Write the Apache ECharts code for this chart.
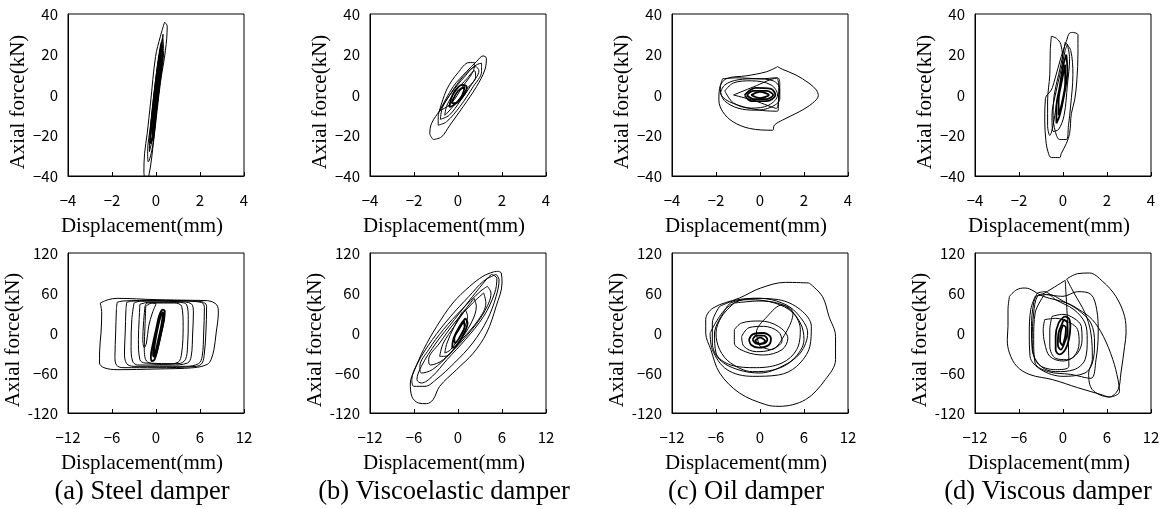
<!DOCTYPE html>
<html><head><meta charset="utf-8">
<script src="https://cdn.jsdelivr.net/npm/echarts@6/dist/echarts.min.js"></script>
<style>html,body{margin:0;padding:0;background:#fff}#c{width:1163px;height:509px}</style>
</head><body><div id="c"></div>
<script>
// ---- tick definitions ----
const smallX = [-4, 4, 2];     // min, max, interval (mm)
const smallY = [-40, 40, 20];  // kN
const largeX = [-12, 12, 6];
const largeY = [-120, 120, 60];

const captions = ['(a) Steel damper', '(b) Viscoelastic damper', '(c) Oil damper', '(d) Viscous damper'];
const xTitle = 'Displacement(mm)';
const yTitle = 'Axial force(kN)';

// ---- data: loops of [displacement mm, force kN] ----
const steelSmall = [
  [[0.39,36],[0.51,34],[0.43,22],[0.2,6],[-0.1,-22],[-0.33,-40],[-0.48,-41],[-0.55,-38],[-0.52,-29],[-0.4,-19],[-0.25,-4],[-0.02,19],[0.2,29],[0.39,36]],
  [[0.3,28],[0.35,22],[0.2,8],[0.0,-10],[-0.15,-25],[-0.35,-33],[-0.38,-28],[-0.25,-15],[-0.08,2],[0.12,18],[0.3,28]],
  [[0.32,30],[0.28,20],[0.1,2],[-0.1,-18],[-0.3,-28],[-0.28,-20],[-0.12,-4],[0.08,14],[0.32,30]],
  [[0.25,26],[0.28,18],[0.15,5],[0.0,-8],[-0.12,-20],[-0.25,-24],[-0.22,-16],[-0.1,-2],[0.05,12],[0.18,22],[0.25,26]],
  [[0.2,22],[0.2,14],[0.08,0],[-0.05,-12],[-0.15,-20],[-0.18,-14],[-0.05,0],[0.1,14],[0.2,22]],
  [[0.15,18],[0.12,8],[0.0,-4],[-0.1,-16],[-0.1,-8],[0.02,4],[0.15,18]]
];
const veSmall = [
  [[-1.13,-22],[-1.28,-19],[-1.2,-14],[-0.82,-7.4],[-0.22,4.1],[0.39,11.6],[0.84,16.5],[1.14,19.3],[1.29,18.2],[1.22,12.4],[0.84,4.1],[0.23,-5.8],[-0.37,-14.9],[-0.75,-20.7],[-1.13,-22]],
  [[-0.9,-14.9],[-0.9,-10.7],[-0.52,-2.5],[0.23,9.1],[0.84,14.9],[1.07,15.7],[1.07,11.6],[0.69,4.1],[0.08,-5.8],[-0.52,-13.2],[-0.9,-14.9]],
  [[-0.85,-8],[-0.5,3],[0,11],[0.5,16],[0.75,16],[0.7,12],[0.2,4],[-0.3,-4],[-0.85,-8]],
  [[-0.8,-12],[-0.7,-6],[-0.3,1],[0.3,9],[0.8,14],[0.95,12],[0.6,5],[0.1,-3],[-0.4,-10],[-0.8,-12]],
  [[-0.6,-10],[-0.5,-5],[-0.1,2],[0.4,8],[0.75,12],[0.8,9],[0.4,3],[-0.1,-4],[-0.5,-9],[-0.6,-10]],
  [[-0.4,-6],[-0.2,1],[0.2,5],[0.4,4],[0.2,-1],[-0.2,-5],[-0.4,-6]],
  [[-0.3,-4],[0,2],[0.3,4],[0.2,0],[-0.1,-4],[-0.3,-4]]
];
const oilSmall = [
  [[0.8,14],[1.02,12.7],[1.63,9.9],[2.23,5.8],[2.56,2.5],[2.65,-0.3],[2.38,-4.1],[1.78,-8.3],[1.02,-12.4],[0.65,-14.9],[0.57,-17.4],[-0.48,-16.5],[-1.23,-13.2],[-1.69,-8.3],[-1.87,-2.5],[-1.84,3.3],[-1.54,8],[-0.6,9.5],[0.3,11.5],[0.8,14]],
  [[-1.7,8],[-1,8.5],[0,8],[0.8,8.5],[0.9,5],[0.85,-2],[0.8,-8],[0,-7.5],[-1,-5],[-1.7,-1],[-1.8,4],[-1.7,8]],
  [[-1.2,0],[-0.3,4],[0.75,8.3],[0.85,3],[0.75,-6.6],[-0.2,-3],[-1.2,0]],
  [[-1.8,1],[-1.6,5],[-1,7.5],[-0.2,8],[0.6,7],[0.9,3],[0.9,-2],[0.5,-6],[-0.2,-7.5],[-1,-6.5],[-1.6,-3],[-1.8,1]],
  [[-1.6,2],[-1.2,6],[-0.4,7],[0.5,5],[0.8,0],[0.4,-5],[-0.4,-6.5],[-1.2,-4],[-1.6,2]],
  [[-0.7,0],[-0.2,3.5],[0.5,3],[0.7,0],[0.3,-3],[-0.4,-3],[-0.7,0]],
  [[-0.6,0],[-0.3,2],[0.3,2],[0.6,0],[0.3,-2],[-0.3,-2],[-0.6,0]],
  [[-0.4,0],[0,1.5],[0.4,0],[0,-1.5],[-0.4,0]]
];
const viscousSmall = [
  [[0.45,30.9],[0.68,29.8],[0.68,20.7],[0.63,7.4],[0.53,-2.5],[0.38,-9.1],[0.3,-19],[0.15,-24],[-0.08,-28.9],[-0.15,-30.9],[-0.53,-30.9],[-0.68,-28.1],[-0.78,-22.3],[-0.83,-12.4],[-0.8,-1.7],[-0.53,2.5],[-0.38,7.4],[-0.08,19],[0.15,26.4],[0.3,30.6],[0.45,30.9]],
  [[-0.53,29],[-0.3,28],[-0.1,25],[0.0,15],[-0.1,5],[-0.3,-5],[-0.45,-15],[-0.6,-20],[-0.7,-15],[-0.7,-3],[-0.6,10],[-0.58,22],[-0.53,29]],
  [[0.1,26],[0.35,22],[0.45,10],[0.35,-5],[0.25,-15],[0.15,-22],[-0.15,-22],[-0.35,-18],[-0.45,-10],[-0.4,0],[-0.2,10],[0,20],[0.1,26]],
  [[0.2,25],[0.3,18],[0.2,5],[0.05,-10],[-0.2,-17],[-0.45,-18],[-0.5,-10],[-0.35,0],[-0.1,12],[0.1,22],[0.2,25]],
  [[0.15,20],[0.2,12],[0.05,0],[-0.15,-10],[-0.3,-14],[-0.3,-6],[-0.15,4],[0,14],[0.15,20]],
  [[0.1,15],[0.1,6],[-0.05,-4],[-0.2,-10],[-0.2,-3],[-0.05,7],[0.1,15]]
];
const steelLarge = [
  [[-7.6,45],[-6.5,50],[-5.3,52],[0,50],[5,49],[7,48.5],[8.3,42],[8.5,30],[8.2,0],[7.9,-25],[7.5,-40],[7,-47],[5.2,-52],[0,-54],[-5.3,-55],[-7.1,-52],[-7.7,-45],[-7.7,-30],[-7.5,0],[-7.4,30],[-7.6,45]],
  [[-5.3,46],[-4.5,48],[0,49],[5,48],[6.5,46],[6.9,40],[6.8,0],[6.6,-30],[6.3,-45],[5.5,-50],[0,-52],[-4.5,-52],[-5.4,-48],[-5.6,-35],[-5.5,0],[-5.4,35],[-5.3,46]],
  [[-4,46],[-3,48],[3,48],[6.2,46],[6.6,38],[6.5,0],[6.3,-35],[5.8,-46],[4,-50],[-3,-50],[-4,-46],[-4.3,-30],[-4.2,0],[-4.1,35],[-4,46]],
  [[-3,45],[-2,48],[3,47],[4.8,44],[5.1,30],[5,0],[4.8,-35],[4.3,-45],[2,-48],[-2.5,-48],[-3.2,-42],[-3.4,-20],[-3.3,20],[-3,45]],
  [[-2.2,43],[-1,46],[3,46],[4.2,42],[4.4,20],[4.3,-20],[4,-40],[3,-46],[-1.5,-45],[-2.2,-40],[-2.4,-10],[-2.3,20],[-2.2,43]],
  [[-1.4,40],[-0.5,45],[2.5,45],[3.5,40],[3.7,10],[3.5,-30],[3,-44],[1,-47],[-1.3,-42],[-1.6,-20],[-1.5,10],[-1.4,40]],
  [[-1.5,40],[-1.2,45],[0,44],[-0.5,30],[-1,10],[-1.3,-15],[-1.6,-22],[-1.8,-10],[-1.7,15],[-1.5,40]],
  [[0.8,35],[1.2,33],[1.1,20],[0.7,0],[0.3,-20],[-0.2,-40],[-0.6,-42],[-0.7,-35],[-0.4,-15],[0,5],[0.4,25],[0.8,35]],
  [[0.6,30],[0.9,26],[0.7,10],[0.3,-10],[-0.1,-30],[-0.4,-35],[-0.4,-25],[-0.1,-5],[0.3,15],[0.6,30]],
  [[0.9,32],[1.1,25],[0.8,5],[0.4,-15],[0,-32],[-0.3,-36],[-0.2,-20],[0.1,0],[0.5,20],[0.9,32]]
];
const veLarge = [
  [[5.5,92.5],[5.9,90],[6,75],[5.2,40],[3.9,0],[2.1,-30],[-0.2,-55],[-2.5,-80],[-3.4,-100],[-4.3,-106],[-5.4,-105],[-6.3,-95],[-6.5,-75],[-5.9,-55],[-4.7,-25],[-2.9,10],[-0.7,45],[1.6,70],[3.4,85],[4.8,91.5],[5.5,92.5]],
  [[5.2,88],[5.6,80],[5.2,55],[4,20],[2,-15],[-0.5,-45],[-3,-70],[-4.5,-80],[-6,-80],[-6.3,-70],[-5.5,-45],[-3.5,-10],[-1,25],[1.5,55],[3.5,78],[5.2,88]],
  [[4.6,88],[5.3,82],[5,60],[3.5,25],[1,-10],[-1.5,-40],[-3.5,-65],[-5,-75],[-5.6,-70],[-5,-50],[-3,-15],[-0.5,20],[2,55],[4,82],[4.6,88]],
  [[4,70],[4.5,60],[3.5,30],[1.5,0],[-1,-30],[-3.5,-55],[-5,-60],[-5.2,-50],[-4,-25],[-2,5],[0.5,35],[3,62],[4,70]],
  [[3.5,60],[3.8,45],[2.8,20],[0.5,-10],[-2,-40],[-3.8,-48],[-4,-40],[-2.5,-15],[-0.5,15],[2,45],[3.5,60]],
  [[2.2,52],[2.5,40],[1.8,15],[0,-15],[-1.8,-35],[-2.5,-35],[-2,-15],[-0.5,10],[1,35],[2.2,52]],
  [[1,35],[1.3,25],[0.5,0],[-1,-25],[-1.8,-30],[-1.5,-15],[-0.5,10],[0.5,30],[1,35]],
  [[1,22],[1.3,15],[0.6,-5],[-0.3,-20],[-0.8,-22],[-0.6,-8],[0.2,10],[1,22]],
  [[0.8,18],[0.9,10],[0.3,-5],[-0.4,-15],[-0.5,-8],[0.1,5],[0.8,18]]
];
const oilLarge = [
  [[6.7,75],[3.5,76],[0.1,67.5],[-2.8,52.5],[-6.4,37.5],[-7.4,20],[-7.4,0],[-6.7,-25],[-5.5,-60],[-2.8,-90],[0.8,-107.5],[2.6,-110],[6.2,-100],[8.9,-70],[10.3,-40],[10.3,-5],[9.4,25],[8.5,55],[6.7,75]],
  [[-5.5,40],[-3,50],[0,52],[3,45],[5,30],[6.5,0],[5.5,-30],[3,-50],[0,-60],[-3,-55],[-5.5,-40],[-6.5,-15],[-6.5,15],[-5.5,40]],
  [[-3.5,45],[0,48],[3.5,40],[5.5,15],[6,-10],[4.5,-40],[2,-55],[-1,-58],[-4,-45],[-5.5,-25],[-6,0],[-5.2,25],[-3.5,45]],
  [[-5,30],[-4,45],[-1.5,50],[2,45],[4.5,30],[5.5,5],[5,-25],[3,-45],[-0.5,-52],[-4,-48],[-6,-30],[-6.2,0],[-5,30]],
  [[-6.8,0],[-6.5,-25],[-4.5,-55],[-1,-65],[2.5,-63],[5,-50],[6.8,-20],[7,10],[5.5,35],[2.5,50],[-1,52],[-4.5,38],[-6.8,0]],
  [[-3.5,5],[-2.5,15],[0,18],[2.5,10],[3.8,-8],[3,-25],[0.5,-33],[-2,-28],[-3.5,-15],[-3.5,5]],
  [[-2.5,-5],[-1.5,8],[0.5,10],[2.5,2],[3,-12],[1.5,-25],[-0.5,-28],[-2.2,-20],[-2.5,-5]],
  [[0,-20],[-0.5,0],[1,25],[3,42],[4.5,30],[3.5,0],[1.5,-25],[0,-20]],
  [[-1.5,-10],[-1,-2],[0.5,0],[1.5,-8],[1.2,-18],[-0.2,-22],[-1.2,-18],[-1.5,-10]],
  [[-1,-10],[-0.5,-4],[0.5,-4],[1,-10],[0.5,-16],[-0.5,-16],[-1,-10]],
  [[-0.7,-12],[0,-7],[0.7,-12],[0,-17],[-0.7,-12]]
];
const viscousLarge = [
  [[-7.3,55],[-6.3,65],[-5.2,67.5],[-2.7,55],[0.5,45],[2.2,35],[4,20],[5.5,-5],[6.8,-40],[7.5,-70],[7.7,-88],[6.3,-96],[5.4,-93],[2,-82],[-1.4,-70],[-4.5,-62.5],[-6.3,-50],[-7.3,-30],[-7.6,-10],[-7.5,10],[-7.5,35],[-7.3,55]],
  [[0.5,81],[2,89],[3.6,90],[5.4,77.5],[7.2,55],[8.4,25],[8.6,0],[8.4,-20],[7.9,-60],[7.5,-85],[6.3,-96],[4,-85],[3.5,-60],[4,-40],[3.8,0],[3,30],[1.5,60],[0.5,81]],
  [[0.3,79],[0.6,20],[0.8,-50],[-1,-55],[-3.5,-45],[-4.2,-10],[-4,30],[-3.5,55],[-2.5,60],[0.3,79]],
  [[-3.5,60],[-2.5,62],[-1,50],[1.5,35],[3,15],[3.3,-10],[3,-40],[1.5,-55],[-1,-58],[-3,-50],[-4.2,-25],[-4.3,10],[-4,45],[-3.5,60]],
  [[-3.8,55],[-2,58],[0,48],[2,35],[3.8,15],[4.3,-15],[4,-45],[3,-60],[0,-65],[-3,-55],[-4.5,-35],[-4.6,0],[-4.4,35],[-3.8,55]],
  [[-2.5,58],[0,55],[2,62],[3.8,58],[4.6,35],[4.8,0],[4.5,-40],[3.8,-68],[1,-62],[-2,-58],[-3.8,-45],[-4,-10],[-3.8,30],[-2.5,58]],
  [[-2.5,20],[-1,22],[1,15],[2,5],[2.2,-15],[1.5,-35],[0,-42],[-1.8,-35],[-2.5,-15],[-2.7,5],[-2.5,20]],
  [[-1.5,25],[0,28],[1.5,22],[2.5,10],[2.6,-10],[2,-30],[0.5,-40],[-1,-38],[-1.8,-20],[-1.8,5],[-1.5,25]],
  [[0.2,25],[0.8,22],[1,10],[0.8,-10],[0.3,-25],[-0.5,-32],[-1,-25],[-1,-5],[-0.6,15],[0.2,25]],
  [[0.1,20],[0.6,15],[0.6,0],[0.2,-15],[-0.3,-25],[-0.7,-18],[-0.6,0],[-0.2,12],[0.1,20]],
  [[0,12],[0.4,8],[0.3,-5],[-0.1,-18],[-0.4,-12],[-0.3,2],[0,12]]
];

const panelLoops = [steelSmall, veSmall, oilSmall, viscousSmall, steelLarge, veLarge, oilLarge, viscousLarge];
// number of trailing (inner, dense) loops drawn with a heavier pen
const coreCount = [3, 2, 3, 2, 3, 2, 3, 3];

// ---- layout ----
const colLeft = [68, 370, 672, 975];
const boxW = 176;
const rowTop = [14, 253];
const boxH = [162, 160];
const captionX = [142, 444, 746, 1048];

const grids = [], xAxes = [], yAxes = [], series = [];
const labFmt = v => v < 0 ? (v === -120 ? '-120' : '\u2212' + Math.abs(v)) : String(v);

for (let p = 0; p < 8; p++) {
  const row = p < 4 ? 0 : 1, col = p % 4;
  const xr = row === 0 ? smallX : largeX;
  const yr = row === 0 ? smallY : largeY;
  grids.push({left: colLeft[col], top: rowTop[row], width: boxW, height: boxH[row],
    show: true, borderColor: '#000', borderWidth: 1, backgroundColor: 'transparent'});
  xAxes.push({type: 'value', gridIndex: p, min: xr[0], max: xr[1], interval: xr[2],
    axisLine: {onZero: false, lineStyle: {color: '#000', width: 1}},
    axisTick: {inside: true, length: 4, lineStyle: {color: '#000'}},
    splitLine: {show: false},
    axisLabel: {color: '#000', fontSize: 15, fontFamily: 'Noto Sans CJK JP', margin: 17, formatter: labFmt},
    name: xTitle, nameLocation: 'middle', nameGap: 40,
    nameTextStyle: {color: '#000', fontSize: 21, fontFamily: 'Liberation Serif', padding: [0, 28, 0, 0]}});
  yAxes.push({type: 'value', gridIndex: p, min: yr[0], max: yr[1], interval: yr[2],
    axisLine: {onZero: false, lineStyle: {color: '#000', width: 1}},
    axisTick: {show: false},
    splitLine: {show: false},
    axisLabel: {color: '#000', fontSize: 15, fontFamily: 'Noto Sans CJK JP', margin: 10, formatter: labFmt},
    name: yTitle, nameLocation: 'middle', nameGap: 38, nameRotate: 90,
    nameTextStyle: {color: '#000', fontSize: 21, fontFamily: 'Liberation Serif', padding: [0, 14, 0, 0]}});
  const loops = panelLoops[p];
  loops.forEach((loop, j) => {
    const core = j >= loops.length - coreCount[p];
    series.push({type: 'line', xAxisIndex: p, yAxisIndex: p, data: loop,
      symbol: 'none', smooth: 0.35, silent: true, animation: false,
      lineStyle: {color: '#000', width: core ? 1.8 : 1}});
  });
}

const chart = echarts.init(document.getElementById('c'), null, {renderer: 'canvas'});
chart.setOption({
  animation: false,
  grid: grids, xAxis: xAxes, yAxis: yAxes, series: series,
  graphic: captions.map((t, i) => ({type: 'text', x: captionX[i], y: 492, silent: true,
    style: {text: t, fill: '#000', font: '26.5px "Liberation Serif"', align: 'center', verticalAlign: 'middle'}}))
});
</script></body></html>
